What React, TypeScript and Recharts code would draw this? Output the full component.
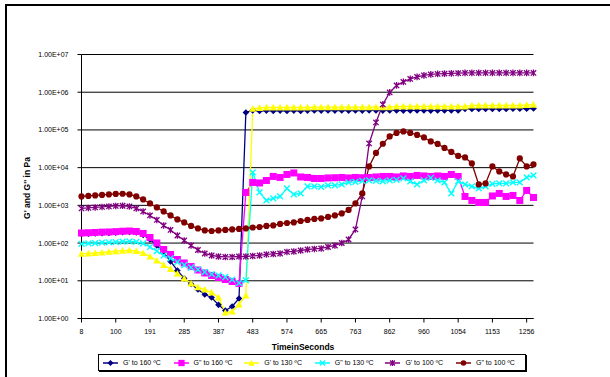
import React from 'react';
import { LineChart, Line, XAxis, YAxis, CartesianGrid, Legend } from 'recharts';

const FONT = '"Liberation Sans", Arial, Helvetica, sans-serif';

// x tick labels (time in seconds), one every 5 sampled points
const timeLabels = ['8', '100', '191', '285', '387', '483', '574', '665', '763', '862', '960', '1054', '1153', '1256'];
const yTicks = [1, 10, 100, 1000, 1e4, 1e5, 1e6, 1e7];
const yTickLabels = ['1.00E+00', '1.00E+01', '1.00E+02', '1.00E+03', '1.00E+04', '1.00E+05', '1.00E+06', '1.00E+07'];

// G' at 160 °C
const gPrime160 = [
  174, 177, 180, 183, 185, 189, 193, 197, 191, 164,
  124.5, 86.4, 56.3, 32.5, 18.8, 11.5, 8.22, 5.88, 4.33, 3.61,
  2.3, 1.63, 2.08, 3.39, 2.9e5, 3.29e5, 3.19e5, 3.25e5, 3.19e5, 3.25e5,
  3.19e5, 3.25e5, 3.19e5, 3.25e5, 3.29e5, 3.25e5, 3.29e5, 3.25e5, 3.29e5, 3.25e5,
  3.29e5, 3.25e5, 3.29e5, 3.29e5, 3.25e5, 3.29e5, 3.29e5, 3.25e5, 3.29e5, 3.29e5,
  3.29e5, 3.25e5, 3.29e5, 3.29e5, 3.29e5, 3.29e5, 3.61e5, 3.61e5, 3.61e5, 3.61e5,
  3.61e5, 3.61e5, 3.61e5, 3.65e5, 3.65e5, 3.65e5, 3.7e5,
];
// G" at 160 °C
const gDouble160 = [
  185, 188, 191, 195, 197, 201, 206, 209, 203, 180,
  141, 100.6, 67.6, 49.9, 36.7, 29.7, 23.9, 19.3, 16.1, 13.8,
  12.2, 10.8, 9.58, 8.48, 2198, 4050, 3930, 4571, 5845, 5495,
  6600, 7230, 5665, 5495, 5170, 5170, 5330, 5395, 5495, 5330,
  5495, 5395, 5495, 5665, 5845, 5845, 5665, 6025, 5845, 6210,
  6025, 5845, 6025, 5845, 6600, 5845, 1722, 1349, 1194, 1194,
  1775, 2070, 1722, 1830, 1349, 2485, 1621,
];
// G' at 130 °C
const gPrime130 = [
  52, 53, 54.6, 56.3, 58.8, 61, 62.8, 64.4, 61.7, 54.6,
  44.1, 34.5, 26.2, 20.6, 15.6, 11.5, 8.48, 6.76, 5.88, 4.9,
  3.61, 1.44, 1.53, 2.35, 4.07, 3.65e5, 3.83e5, 3.95e5, 3.95e5, 3.95e5,
  3.95e5, 3.95e5, 3.95e5, 3.95e5, 4.03e5, 4.03e5, 4.03e5, 4.03e5, 4.03e5, 4.03e5,
  4.03e5, 4.03e5, 4.03e5, 4.03e5, 4.03e5, 4.03e5, 4.2e5, 4.2e5, 4.2e5, 4.2e5,
  4.2e5, 4.2e5, 4.2e5, 4.2e5, 4.2e5, 4.2e5, 4.2e5, 4.47e5, 4.47e5, 4.47e5,
  4.47e5, 4.47e5, 4.47e5, 4.47e5, 4.47e5, 4.6e5, 4.7e5,
];
// G" at 130 °C
const gDouble130 = [
  95.8, 97.6, 100, 102.5, 104.4, 106.4, 109, 110.3, 107, 97.6,
  78.8, 61.7, 46.9, 39.1, 31.5, 26.2, 22.5, 19.9, 17.1, 15.1,
  13.8, 12.6, 10.8, 8.74, 10.2, 7460, 2198, 1349, 1524, 1722,
  2807, 1945, 2070, 3170, 3170, 3076, 3373, 3373, 3580, 4050,
  4178, 4440, 4571, 4440, 4305, 4571, 4720, 5170, 4305, 3580,
  4571, 5330, 4571, 4050, 2070, 4305, 3580, 3170, 2807, 3170,
  3698, 3810, 3810, 4050, 4050, 5495, 6210,
];
// G' at 100 °C
const gPrime100 = [
  828, 853, 880, 907, 935, 964, 976, 935, 828, 689,
  540, 410, 293, 223, 159, 117, 86.4, 65.6, 53, 46.9,
  44.1, 42.8, 42.8, 44.1, 44.1, 45.5, 46.9, 49.9, 51.4, 53,
  58.1, 59.9, 63.6, 67.6, 69.8, 71.9, 78.8, 86.4, 100.6, 124.5,
  230, 1722, 43850, 158000, 475000, 988000, 1.514e6, 1.876e6, 2.254e6, 2.547e6,
  2.792e6, 2.965e6, 3.055e6, 3.11e6, 3.15e6, 3.19e6, 3.25e6, 3.25e6, 3.25e6, 3.25e6,
  3.25e6, 3.25e6, 3.25e6, 3.25e6, 3.25e6, 3.25e6, 3.25e6,
];
// G" at 100 °C
const gDouble100 = [
  1720, 1775, 1830, 1888, 1945, 2005, 2032, 1945, 1720, 1433,
  1122, 880, 689, 540, 423, 352, 284, 244, 216, 209,
  216, 223, 230, 237, 244, 259, 267, 284, 293, 321,
  341, 352, 385, 410, 436, 449, 492, 540, 610, 755,
  1122, 2070, 10760, 24550, 43000, 67300, 83200, 91200, 83200, 73700,
  63200, 49500, 42500, 33300, 26100, 20400, 18660, 12920, 3580, 3810,
  10760, 7930, 6600, 5845, 17540, 10760, 12160,
];

const seriesNames = ["G' to 160 ºC", 'G" to 160 ºC', "G' to 130 ºC", 'G" to 130 ºC', "G' to 100 ºC", 'G" to 100 ºC'];
const seriesColors = ['#000080', '#FF00FF', '#FFFF00', '#00FFFF', '#800080', '#800000'];
const seriesShapes = ['diamond', 'square', 'triangle', 'x', 'star', 'circle'];
const seriesValues = [gPrime160, gDouble160, gPrime130, gDouble130, gPrime100, gDouble100];

const data = gPrime160.map((_, i) => {
  const row: Record<string, number> = { i };
  seriesValues.forEach((arr, k) => {
    row['s' + k] = arr[i];
  });
  return row;
});

function Marker({ shape, color, cx, cy, s = 1 }: { shape: string; color: string; cx: number; cy: number; s?: number }) {
  switch (shape) {
    case 'diamond': {
      const r = 3.3 * s;
      return <path d={`M${cx},${cy - r}L${cx + r},${cy}L${cx},${cy + r}L${cx - r},${cy}Z`} fill={color} />;
    }
    case 'square': {
      const h = 3.5 * s;
      return <rect x={cx - h} y={cy - h} width={2 * h} height={2 * h} fill={color} />;
    }
    case 'triangle': {
      const h = 3.6 * s;
      return <path d={`M${cx},${cy - h}L${cx + h},${cy + h * 0.85}L${cx - h},${cy + h * 0.85}Z`} fill={color} />;
    }
    case 'x': {
      const h = 2.9 * s;
      return (
        <path
          d={`M${cx - h},${cy - h}L${cx + h},${cy + h}M${cx + h},${cy - h}L${cx - h},${cy + h}`}
          stroke={color}
          strokeWidth={1.4}
          fill="none"
        />
      );
    }
    case 'star': {
      const h = 2.7 * s;
      return (
        <path
          d={`M${cx - h},${cy - h}L${cx + h},${cy + h}M${cx + h},${cy - h}L${cx - h},${cy + h}M${cx},${cy - h - 0.6}L${cx},${cy + h + 0.6}`}
          stroke={color}
          strokeWidth={1.3}
          fill="none"
        />
      );
    }
    default:
      return <circle cx={cx} cy={cy} r={3.1 * s} fill={color} />;
  }
}

const makeDot = (k: number) => (p: any) => {
  if (p.cx == null || p.cy == null || isNaN(p.cx) || isNaN(p.cy)) return <g key={`d${k}-${p.index}`} />;
  return (
    <g key={`d${k}-${p.index}`}>
      <Marker shape={seriesShapes[k]} color={seriesColors[k]} cx={p.cx} cy={p.cy} />
    </g>
  );
};

const renderLegend = () => (
  <div
    style={{
      boxSizing: 'border-box',
      width: 428,
      height: 17,
      border: '1px solid #000',
      boxShadow: '1px 1px 0 #000',
      display: 'flex',
      alignItems: 'center',
      paddingLeft: 4,
      background: '#fff',
      fontFamily: FONT,
      fontSize: 7,
      color: '#000',
    }}
  >
    {seriesNames.map((name, k) => (
      <div key={name} style={{ width: 70.6, display: 'flex', alignItems: 'center', flex: 'none' }}>
        <svg width={15} height={8} style={{ display: 'block' }}>
          <line x1={0} y1={4} x2={15} y2={4} stroke={seriesColors[k]} strokeWidth={1.5} />
          <Marker shape={seriesShapes[k]} color={seriesColors[k]} cx={7.5} cy={4} s={0.9} />
        </svg>
        <span style={{ marginLeft: 5, whiteSpace: 'nowrap', lineHeight: '8px' }}>{name}</span>
      </div>
    ))}
  </div>
);

const XTitle = () => (
  <text x={303} y={350} textAnchor="middle" fontFamily={FONT} fontSize={8.5} fontWeight="bold" fill="#000">
    TimeinSeconds
  </text>
);

const YTitle = () => (
  <text
    x={29.5}
    y={188}
    transform="rotate(-90 29.5 188)"
    textAnchor="middle"
    fontFamily={FONT}
    fontSize={8.5}
    fontWeight="bold"
    fill="#000"
  >
    G' and G'' in Pa
  </text>
);

export default function App() {
  return (
    <div style={{ position: 'absolute', left: 0, top: 0, width: 610, height: 377, background: '#fff' }}>
      <div
        style={{
          position: 'absolute',
          left: 5,
          top: 4,
          width: 605,
          height: 373,
          boxSizing: 'border-box',
          borderTop: '2px solid #000',
          borderLeft: '2px solid #000',
        }}
      />
      <div style={{ position: 'absolute', left: 0, top: 0 }}>
        <LineChart width={610} height={377} data={data} margin={{ top: 54.5, right: 76.5, left: 0, bottom: 28.5 }}>
          <CartesianGrid vertical={false} stroke="#000" strokeWidth={1} />
          <XAxis
            dataKey="i"
            type="category"
            interval={4}
            tickFormatter={(v: number) => timeLabels[Math.round(v / 5)] ?? ''}
            axisLine={{ stroke: '#000' }}
            tickLine={{ stroke: '#000' }}
            tickSize={4}
            tickMargin={7}
            height={30}
            tick={{ fill: '#000', fontSize: 7, fontFamily: FONT }}
            label={<XTitle />}
          />
          <XAxis
            xAxisId="top"
            dataKey="i"
            orientation="top"
            height={0}
            tick={false}
            tickLine={false}
            axisLine={{ stroke: '#808080' }}
          />
          <YAxis
            scale="log"
            type="number"
            domain={[1, 1e7]}
            ticks={yTicks}
            interval={0}
            allowDataOverflow
            tickFormatter={(v: number) => yTickLabels[yTicks.indexOf(v)] ?? ''}
            width={81.5}
            axisLine={{ stroke: '#000' }}
            tickLine={{ stroke: '#000' }}
            tickSize={4}
            tickMargin={9}
            tick={{ fill: '#000', fontSize: 7, fontFamily: FONT }}
            label={<YTitle />}
          />
          <YAxis
            yAxisId="right"
            orientation="right"
            width={0}
            tick={false}
            tickLine={false}
            axisLine={{ stroke: '#808080' }}
          />
          <Legend
            layout="horizontal"
            verticalAlign="middle"
            align="center"
            wrapperStyle={{ left: 98, top: 354, width: 428, height: 17 }}
            content={renderLegend}
          />
          {seriesNames.map((name, k) => (
            <Line
              key={name}
              name={name}
              dataKey={'s' + k}
              type="linear"
              stroke={seriesColors[k]}
              strokeWidth={1.3}
              dot={makeDot(k)}
              activeDot={false}
              isAnimationActive={false}
            />
          ))}
        </LineChart>
      </div>
    </div>
  );
}
